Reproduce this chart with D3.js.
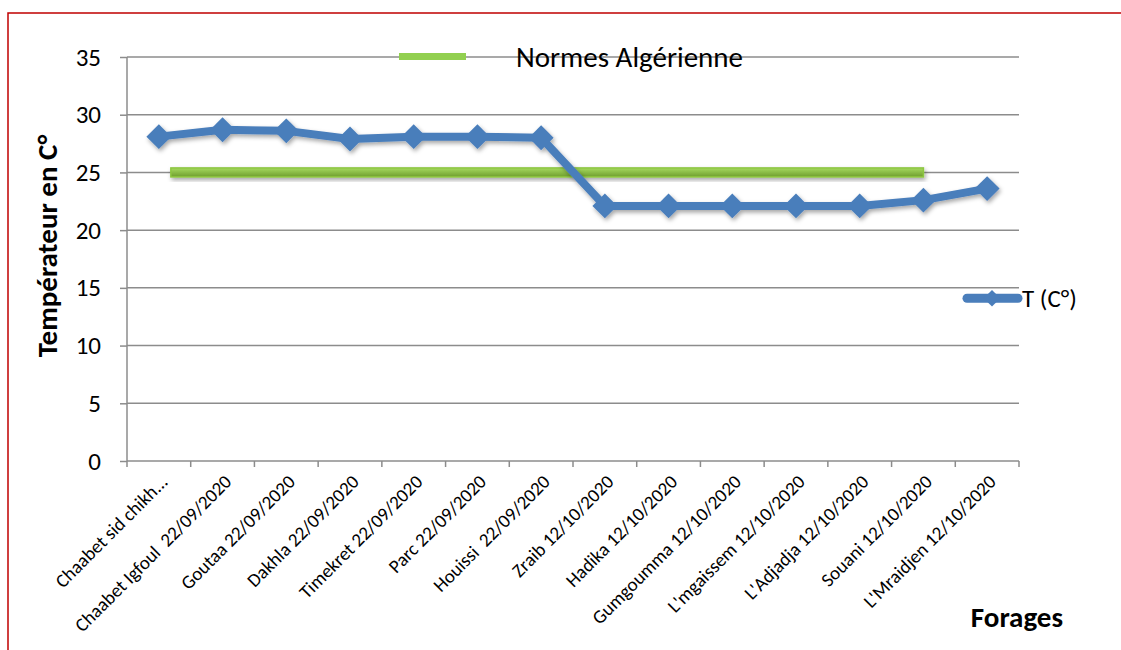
<!DOCTYPE html>
<html><head><meta charset="utf-8">
<script src="https://cdn.jsdelivr.net/npm/d3@7"></script>
<style>body{margin:0;background:#fff}svg{display:block}text{font-family:Carlito,Calibri,"Open Sans","Liberation Sans",sans-serif;fill:#000;white-space:pre}</style>
</head><body><svg id="c" width="1121" height="650"></svg>
<script>
const categories = ["Chaabet sid chikh...","Chaabet Igfoul  22/09/2020","Goutaa 22/09/2020","Dakhla 22/09/2020","Timekret 22/09/2020","Parc 22/09/2020","Houissi  22/09/2020","Zraib 12/10/2020","Hadika 12/10/2020","Gumgoumma 12/10/2020","L'mgaissem 12/10/2020","L'Adjadja 12/10/2020","Souani 12/10/2020","L'Mraidjen 12/10/2020"];
const temps = [28.1,28.7,28.6,27.9,28.1,28.1,28.0,22.1,22.1,22.1,22.1,22.1,22.6,23.6];
const normValue = 25;
const normFrom = categories[0], normTo = categories[12];
const yTicks = [0,5,10,15,20,25,30,35];
const seriesName = "T (C°)", normName = "Normes Algérienne";
const yTitle = "Températeur en C°", xTitle = "Forages";

const svg = d3.select("#c");
const defs = svg.append("defs");
const f = defs.append("filter").attr("id","sh").attr("x","-20%").attr("y","-50%").attr("width","140%").attr("height","200%");
f.append("feDropShadow").attr("dx",1.5).attr("dy",2.5).attr("stdDeviation",2).attr("flood-color","#000").attr("flood-opacity",0.35);
const g = defs.append("linearGradient").attr("id","gg").attr("x1",0).attr("y1",0).attr("x2",0).attr("y2",1);
g.append("stop").attr("offset","0%").attr("stop-color","#a6d960");
g.append("stop").attr("offset","100%").attr("stop-color","#6f9e2c");

// border
svg.append("path").attr("d","M8,650 L8,13 L1121,13").attr("fill","none").attr("stroke","#c00000").attr("stroke-width",1.5);

const L=127, R=1019, T=57, B=461;
const x = d3.scaleBand().domain(categories).range([L,R]);
const cx = d => x(d)+x.bandwidth()/2;
const y = d3.scaleLinear().domain([0,35]).range([B,T]);

// grid
svg.append("g").selectAll("line").data(yTicks.filter(d=>d>0)).join("line")
 .attr("x1",L).attr("x2",R).attr("y1",d=>y(d)).attr("y2",d=>y(d)).attr("stroke","#8c8c8c").attr("stroke-width",1.5);

// y axis
const ya = svg.append("g").attr("transform",`translate(${L},0)`).call(d3.axisLeft(y).tickValues(yTicks).tickSize(7).tickPadding(19));
ya.select(".domain").attr("stroke","#8c8c8c").attr("stroke-width",1.5).attr("d",`M-0,${T}V${B}`);
ya.selectAll(".tick line").attr("stroke","#8c8c8c").attr("stroke-width",1.5);
ya.selectAll(".tick text").attr("font-size",25).attr("font-family",'Carlito,"Open Sans",sans-serif').attr("fill","#000");

// x axis
const xa = svg.append("g").attr("transform",`translate(0,${B})`).call(d3.axisBottom(x).tickSize(0).tickFormat(""));
xa.select(".domain").attr("stroke","#8c8c8c").attr("stroke-width",1.5).attr("d",`M${L},0H${R}`);
xa.append("g").selectAll("line").data(d3.range(categories.length+1)).join("line")
 .attr("x1",i=>L+i*x.step()).attr("x2",i=>L+i*x.step()).attr("y1",0).attr("y2",6).attr("stroke","#8c8c8c").attr("stroke-width",1.5);
svg.append("g").selectAll("text").data(categories).join("text")
 .attr("transform",d=>`translate(${cx(d)+10},${B+22}) rotate(-45)`)
 .attr("text-anchor","end").attr("font-size",19).text(d=>d);

// norm line
svg.append("rect").attr("x",cx(normFrom)+12).attr("width",cx(normTo)-cx(normFrom)-12)
 .attr("y",y(normValue)-4.5).attr("height",9).attr("fill","url(#gg)").attr("stroke","#8cc63f").attr("stroke-width",1.5).attr("filter","url(#sh)");

// series
const line = d3.line().x((d,i)=>cx(categories[i])).y(d=>y(d));
const sg = svg.append("g").attr("filter","url(#sh)");
sg.append("path").datum(temps).attr("d",line).attr("fill","none").attr("stroke","#4a7ebb").attr("stroke-width",8).attr("stroke-linejoin","round");
sg.selectAll("path.m").data(temps).join("path").attr("class","m")
 .attr("d",d3.symbol().type(d3.symbolSquare).size(310)).attr("transform",(d,i)=>`translate(${cx(categories[i])},${y(d)}) rotate(45)`)
 .attr("fill","#4a7ebb");

// legends
svg.append("rect").attr("x",399).attr("y",y(35)-4).attr("width",67).attr("height",7).attr("fill","#92d050");
svg.append("text").attr("x",516).attr("y",67).attr("font-size",29).text(normName);
const ly = y(14.1);
const lg = svg.append("g");
lg.append("line").attr("x1",967).attr("x2",1018).attr("y1",ly).attr("y2",ly).attr("stroke","#4a7ebb").attr("stroke-width",9).attr("stroke-linecap","round");
lg.append("path").attr("d",d3.symbol().type(d3.symbolSquare).size(140)).attr("transform",`translate(992,${ly}) rotate(45)`).attr("fill","#4a7ebb");
svg.append("text").attr("x",1022).attr("y",ly+9).attr("font-size",25).text(seriesName);

// titles
svg.append("text").attr("transform",`translate(57,${246}) rotate(-90)`).attr("text-anchor","middle").attr("font-size",29).attr("font-weight","bold").text(yTitle);
svg.append("text").attr("x",1063).attr("y",627).attr("text-anchor","end").attr("font-size",29).attr("font-weight","bold").text(xTitle);
</script></body></html>
